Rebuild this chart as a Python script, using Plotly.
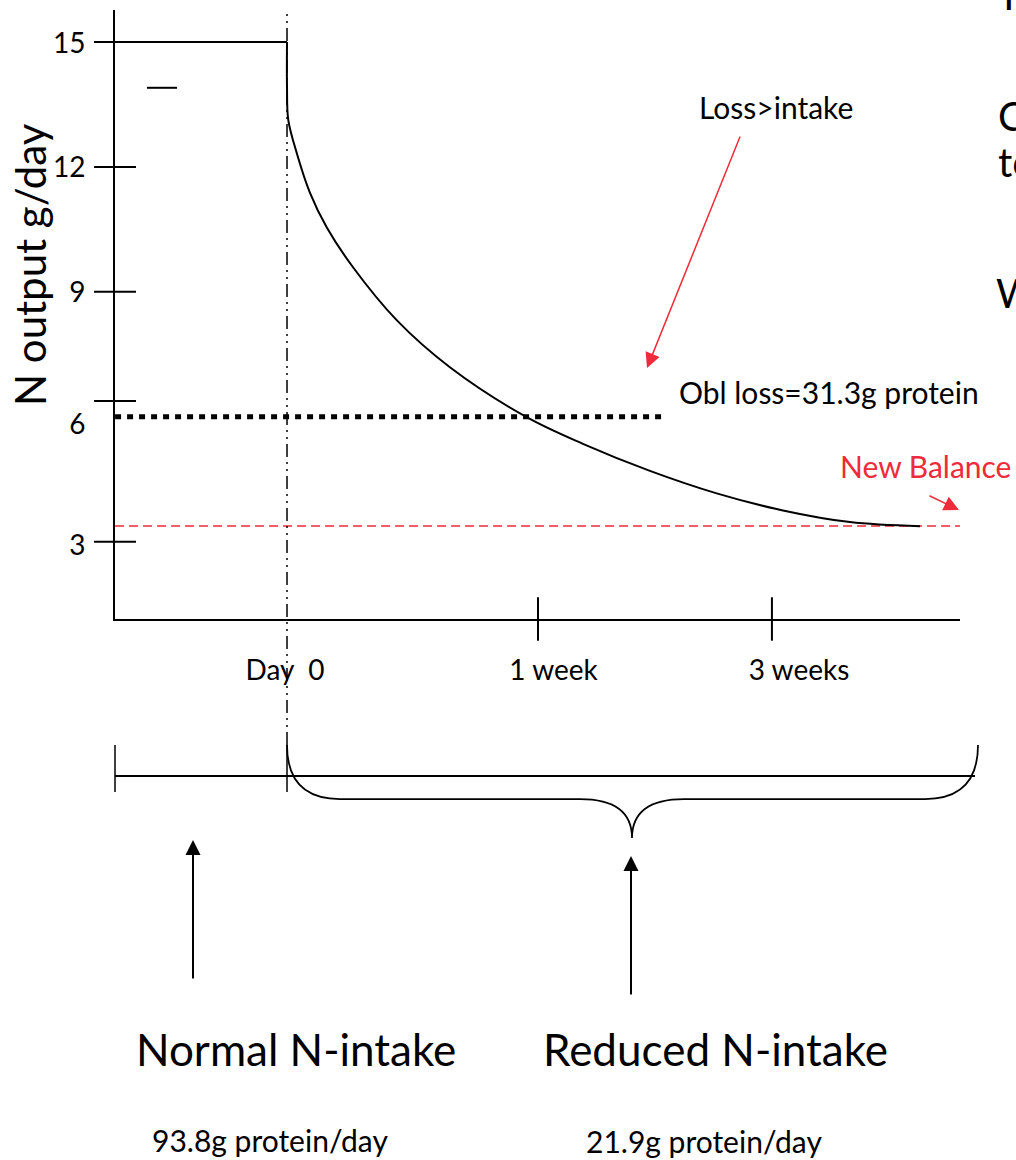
import plotly.graph_objects as go

# ---------------- data ----------------
# time axis is schematic: Day 0 = 0, "1 week" tick = 1
time_curve = [0.0, 0.0, 0.005, 0.039, 0.092, 0.158, 0.263, 0.437, 0.649,
              0.955, 1.179, 1.446, 1.712, 1.976, 2.243, 2.522]
n_output_curve = [15.0, 13.92, 13.13, 12.33, 11.37, 10.55, 9.59, 8.32, 7.19,
                  5.99, 5.35, 4.70, 4.16, 3.75, 3.47, 3.37]

normal_time = [-0.685, 0.0]
normal_output = [15.0, 15.0]

obl_time = [-0.685, 1.494]
obl_output = [6.0, 6.0]

balance_time = [-0.685, 2.681]
balance_output = [3.377, 3.377]

stray_time = [-0.558, -0.438]
stray_output = [13.9, 13.9]

y_tick_marks = [15, 12, 9, 6.38, 3]
y_tick_label_pos = [14.98, 12.0, 9.0, 5.83, 2.92]
y_tick_labels = ["15", "12", "9", "6", "3"]

x_tick_marks = [1.0, 1.932]
x_tick_label_pos = [-0.008, 1.062, 2.04]
x_tick_labels = ["Day\u00a0 0", "1 week", "3 weeks"]

day0 = 0.0

# ---------------- layout geometry (pixels) ----------------
W, H = 1016, 1160
PL, PR, PT, PB = 115, 960, 10, 619
X_RANGE = [-0.6853, 2.6813]
Y_RANGE = [1.143, 15.768]

FONT = "Lato"
RED = "#EE2B3B"


def px(x):
    return x / W


def py(y):
    return 1 - y / H


fig = go.Figure()

fig.add_trace(go.Scatter(x=normal_time, y=normal_output, mode="lines",
                         line=dict(color="black", width=2)))
fig.add_trace(go.Scatter(x=stray_time, y=stray_output, mode="lines",
                         line=dict(color="black", width=2)))
fig.add_trace(go.Scatter(x=obl_time, y=obl_output, mode="lines",
                         line=dict(color="black", width=5, dash="6px,6px")))
fig.add_trace(go.Scatter(x=balance_time, y=balance_output, mode="lines",
                         line=dict(color=RED, width=1.5, dash="9px,5px")))
fig.add_trace(go.Scatter(x=time_curve, y=n_output_curve, mode="lines",
                         line=dict(color="black", width=2, shape="spline", smoothing=1.0)))
# crossing tick marks
fig.add_trace(go.Scatter(x=[X_RANGE[0]] * len(y_tick_marks), y=y_tick_marks, mode="markers",
                         cliponaxis=False,
                         marker=dict(symbol="line-ew", size=30, color="black",
                                     line=dict(width=2, color="black"))))
fig.add_trace(go.Scatter(x=x_tick_marks, y=[Y_RANGE[0]] * len(x_tick_marks), mode="markers",
                         cliponaxis=False,
                         marker=dict(symbol="line-ns", size=31, color="black",
                                     line=dict(width=2, color="black"))))

shapes = []
# vertical dash-dot line at day 0
shapes.append(dict(type="line", xref="x", yref="paper", x0=day0, x1=day0,
                   y0=py(745), y1=py(PT), line=dict(color="black", width=1.5,
                                                   dash="13px,5px,2px,5px,2px,5px")))
# timeline
shapes.append(dict(type="line", xref="paper", yref="paper", x0=px(115), x1=px(975),
                   y0=py(776), y1=py(776), line=dict(color="black", width=2)))
for xb in (115, 287):
    shapes.append(dict(type="line", xref="paper", yref="paper", x0=px(xb), x1=px(xb),
                       y0=py(745), y1=py(792), line=dict(color="black", width=1.5)))
# brace
pts = ("M {a},{b} Q {a},{c} {d},{c} L {e},{c} Q {f},{c} {f},{g} "
       "Q {f},{c} {h},{c} L {i},{c} Q {j},{c} {j},{b}").format(
    a=px(287), b=py(745), c=py(799), d=px(340), e=px(580), f=px(632), g=py(838),
    h=px(684), i=px(925), j=px(978))
shapes.append(dict(type="path", xref="paper", yref="paper", path=pts,
                   line=dict(color="black", width=1.75)))

ann = []


def txt(t, x, y, size, color="black", xanchor="center", angle=0):
    ann.append(dict(text=t, x=px(x), y=py(y), xref="paper", yref="paper",
                    showarrow=False, xanchor=xanchor, yanchor="middle",
                    textangle=angle, font=dict(family=FONT, size=size, color=color)))


def arrow(tip, tail, color, width, size):
    ann.append(dict(text="", x=px(tip[0]), y=py(tip[1]), xref="paper", yref="paper",
                    ax=tail[0] - tip[0], ay=tail[1] - tip[1], axref="pixel", ayref="pixel",
                    showarrow=True, arrowhead=2, arrowsize=size, arrowwidth=width,
                    arrowcolor=color, standoff=0, startstandoff=0))


txt("N output g/day", 30, 265, 42, angle=-90)
txt("Loss>intake", 775.5, 106.5, 30)
txt("Obl loss=31.3g protein", 828.5, 392, 30)
txt("New Balance", 925.5, 465.5, 30, color=RED)
txt("Normal N-intake", 296, 1049, 44)
txt("Reduced N-intake", 715, 1049, 44)
txt("93.8g protein/day", 269.5, 1140, 30)
txt("21.9g protein/day", 704, 1141, 30)
# text cut off at the right edge (as in the reference)
txt("T", 995, -5.5, 40, xanchor="left")
txt("C", 996, 116.5, 40, xanchor="left")
txt("to", 996, 161.5, 40, xanchor="left")
txt("W", 994, 292.5, 40, xanchor="left")

arrow((193, 840), (193, 980), "black", 2, 1.5)
arrow((631, 856), (631, 996), "black", 2, 1.5)
arrow((647, 368), (740.7, 135), RED, 1.5, 2)
arrow((959, 510), (928, 495), RED, 1.5, 2)

fig.update_layout(
    width=W, height=H, autosize=False,
    margin=dict(l=0, r=0, t=0, b=0, pad=0),
    paper_bgcolor="white", plot_bgcolor="white",
    showlegend=False, hovermode=False,
    font=dict(family=FONT, color="black"),
    shapes=shapes, annotations=ann,
    xaxis=dict(domain=[PL / W, PR / W], range=X_RANGE, showline=True, linewidth=2,
               linecolor="black", showgrid=False, zeroline=False, ticks="",
               tickvals=x_tick_label_pos, ticktext=x_tick_labels,
               tickfont=dict(family=FONT, size=28, color="black"),
               ticklabelstandoff=25, automargin=False, fixedrange=True),
    yaxis=dict(domain=[1 - PB / H, 1 - PT / H], range=Y_RANGE, showline=True, linewidth=2,
               linecolor="black", showgrid=False, zeroline=False, ticks="",
               tickvals=y_tick_label_pos, ticktext=y_tick_labels,
               tickfont=dict(family=FONT, size=28, color="black"),
               ticklabelstandoff=22, automargin=False, fixedrange=True),
)

fig.write_html("out.html", config={"displayModeBar": False},
               post_script="document.body.style.margin='0';")
